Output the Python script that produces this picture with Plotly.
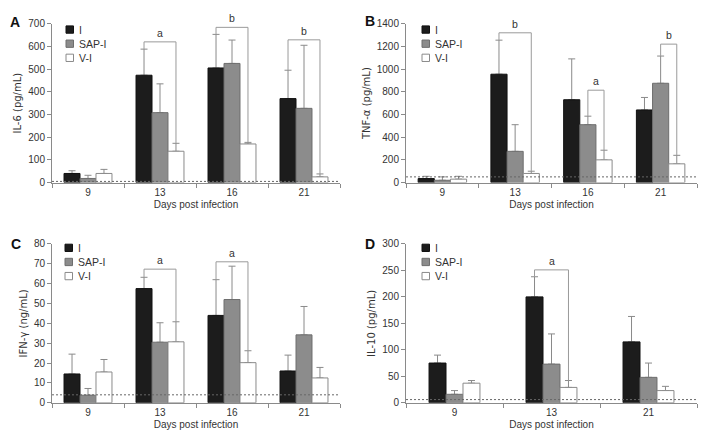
import plotly.graph_objects as go

# ---------------- data ----------------
series_names = ["I", "SAP-I", "V-I"]

days_abc = ["9", "13", "16", "21"]
days_d = ["9", "13", "21"]

# Panel A: IL-6 (pg/mL)
il6_I = [40, 473, 505, 370]
il6_SAP = [18, 308, 525, 327]
il6_V = [40, 138, 170, 25]
il6_I_err = [12, 115, 148, 125]
il6_SAP_err = [14, 127, 103, 278]
il6_V_err = [18, 35, 7, 13]
il6_lod = 5

# Panel B: TNF-alpha (pg/mL)
tnf_I = [35, 955, 730, 640]
tnf_SAP = [20, 275, 510, 875]
tnf_V = [30, 80, 200, 165]
tnf_I_err = [20, 300, 360, 110]
tnf_SAP_err = [30, 235, 75, 240]
tnf_V_err = [25, 20, 85, 75]
tnf_lod = 50

# Panel C: IFN-gamma (ng/mL)
ifn_I = [14.5, 57.5, 44, 16]
ifn_SAP = [3.8, 30.5, 52, 34.2]
ifn_V = [15.5, 30.7, 20.2, 12.5]
ifn_I_err = [10, 5.7, 18, 8]
ifn_SAP_err = [3.4, 9.8, 16.8, 14.3]
ifn_V_err = [6.3, 10.1, 6, 5.3]
ifn_lod = 4

# Panel D: IL-10 (pg/mL)
il10_I = [75, 200, 115]
il10_SAP = [16, 73, 48]
il10_V = [37, 29, 23]
il10_I_err = [15, 38, 48]
il10_SAP_err = [7, 57, 27]
il10_V_err = [5, 13, 8]
il10_lod = 6

# significance brackets: (category index, from series, to series, level, label)
brackets_a = [(1, 0, 2, 620, "a"), (2, 0, 2, 684, "b"), (3, 0, 2, 629, "b")]
brackets_b = [(1, 0, 2, 1320, "b"), (2, 1, 2, 814, "a"), (3, 1, 2, 1220, "b")]
brackets_c = [(1, 0, 2, 67.3, "a"), (2, 0, 2, 71, "a")]
brackets_d = [(1, 0, 2, 251, "a")]

# ---------------- style ----------------
OFF = 8                      # default page margin of the html body
W, H = 708 - 2 * OFF, 446 - 2 * OFF
FONT = "Liberation Sans"
TFONT = "DejaVu Sans"
TXT = "#333333"
AX = "#8a8a8a"
fills = ["#1c1c1c", "#8c8c8c", "#ffffff"]
outlines = ["#111111", "#6e6e6e", "#8a8a8a"]
ERR = "#8a8a8a"

fig = go.Figure()


def px_x(p):
    return (p - OFF) / W


def px_y(p):
    return 1 - (p - OFF) / H


panels = [
    dict(n="", letter="A", cats=days_abc, vals=[il6_I, il6_SAP, il6_V],
         errs=[il6_I_err, il6_SAP_err, il6_V_err], lod=il6_lod, ymax=700, dtick=100,
         ytitle="IL-6 (pg/mL)", br=brackets_a, xd=(52, 340), yd=(19, 182), w=0.222,
         lx=(15, 17), leg=(14, 6)),
    dict(n="2", letter="B", cats=days_abc, vals=[tnf_I, tnf_SAP, tnf_V],
         errs=[tnf_I_err, tnf_SAP_err, tnf_V_err], lod=tnf_lod, ymax=1400, dtick=200,
         ytitle="TNF-α (pg/mL)", br=brackets_b, xd=(406, 697), yd=(19, 182), w=0.222,
         lx=(369.5, 16.5), leg=(16, 6)),
    dict(n="3", letter="C", cats=days_abc, vals=[ifn_I, ifn_SAP, ifn_V],
         errs=[ifn_I_err, ifn_SAP_err, ifn_V_err], lod=ifn_lod, ymax=80, dtick=10,
         ytitle="IFN-γ (ng/mL)", br=brackets_c, xd=(52, 340), yd=(245, 408), w=0.222,
         lx=(15.5, 245.5), leg=(13, 4)),
    dict(n="4", letter="D", cats=days_d, vals=[il10_I, il10_SAP, il10_V],
         errs=[il10_I_err, il10_SAP_err, il10_V_err], lod=il10_lod, ymax=300, dtick=50,
         ytitle="IL-10 (pg/mL)", br=brackets_d, xd=(406, 697), yd=(245, 408), w=0.175,
         lx=(370, 245.5), leg=(16, 4)),
]

for p in panels:
    n = p["n"]
    xa, ya = "x" + n, "y" + n
    w = p["w"]
    # error-bar carriers (drawn underneath the visible bars)
    for k in range(3):
        fig.add_trace(go.Bar(
            x=p["cats"], y=p["vals"][k], xaxis=xa, yaxis=ya,
            width=w, offset=-1.5 * w + k * w,
            marker=dict(color="rgba(0,0,0,0)", line=dict(width=0)),
            error_y=dict(type="data", array=p["errs"][k], symmetric=False,
                         color=ERR, thickness=1, width=3.5),
            showlegend=False, hoverinfo="skip",
        ))
    for k in range(3):
        fig.add_trace(go.Bar(
            x=p["cats"], y=p["vals"][k], xaxis=xa, yaxis=ya, name=series_names[k],
            width=w, offset=-1.5 * w + k * w,
            marker=dict(color=fills[k], line=dict(color=outlines[k], width=1)),
            showlegend=False,
        ))

    x0, x1 = p["xd"]
    y0, y1 = p["yd"]
    fig.update_layout({
        "xaxis" + n: dict(domain=[px_x(x0), px_x(x1)], anchor=ya, type="category",
                          showline=True, linecolor=AX, linewidth=1,
                          ticks="outside", tickson="boundaries", ticklen=4, tickcolor=AX,
                          tickfont=dict(family=FONT, size=10, color=TXT),
                          title=dict(text="Days post infection", standoff=4,
                                     font=dict(family=FONT, size=10, color=TXT)),
                          range=[-0.5, len(p["cats"]) - 0.5], showgrid=False, zeroline=False,
                          fixedrange=True),
        "yaxis" + n: dict(domain=[px_y(y1), px_y(y0)], anchor=xa,
                          range=[0, p["ymax"]], dtick=p["dtick"],
                          showline=True, linecolor=AX, linewidth=1,
                          ticks="outside", ticklen=4, tickcolor=AX,
                          tickfont=dict(family=FONT, size=10, color=TXT),
                          title=dict(text=p["ytitle"], standoff=4,
                                     font=dict(family=TFONT, size=10, color=TXT)),
                          showgrid=False, zeroline=False, fixedrange=True),
    })

    # limit of detection line
    fig.add_shape(type="line", xref=xa + " domain", yref=ya, x0=0, x1=1,
                  y0=p["lod"], y1=p["lod"],
                  line=dict(color="#666666", width=1, dash="2px,2px"))

    # significance brackets
    for (ci, s0, s1, lvl, lab) in p["br"]:
        xa0 = ci + (s0 - 1) * w
        xa1 = ci + (s1 - 1) * w
        t0 = p["vals"][s0][ci] + p["errs"][s0][ci]
        t1 = p["vals"][s1][ci] + p["errs"][s1][ci]
        fig.add_shape(type="path", xref=xa, yref=ya,
                      path=f"M {xa0} {t0} L {xa0} {lvl} L {xa1} {lvl} L {xa1} {t1}",
                      line=dict(color="#9a9a9a", width=1))
        fig.add_annotation(x=(xa0 + xa1) / 2, y=lvl, xref=xa, yref=ya, text=lab,
                           showarrow=False, yanchor="bottom", yshift=1,
                           font=dict(family=FONT, size=10.5, color=TXT))

    # in-plot legend (square swatch + label per series)
    lox, loy = p["leg"]
    for k in range(3):
        cy = y0 + loy + k * 14.5
        sx = x0 + lox
        fig.add_shape(type="rect", xref="paper", yref="paper",
                      x0=px_x(sx), x1=px_x(sx + 7.5), y0=px_y(cy + 3.75), y1=px_y(cy - 3.75),
                      fillcolor=fills[k], line=dict(color=outlines[k], width=1))
        fig.add_annotation(x=px_x(sx + 10.5), y=px_y(cy), xref="paper", yref="paper",
                           text=series_names[k], showarrow=False,
                           xanchor="left", yanchor="middle",
                           font=dict(family=FONT, size=10.5, color=TXT))

    # panel letter
    lx, ly = p["lx"]
    fig.add_annotation(x=px_x(lx), y=px_y(ly), xref="paper", yref="paper",
                       text=f"<b>{p['letter']}</b>", showarrow=False,
                       xanchor="center", yanchor="middle",
                       font=dict(family="Liberation Sans", size=14, color="#111111"))

fig.update_layout(
    width=W, height=H, margin=dict(l=0, r=0, t=0, b=0),
    paper_bgcolor="white", plot_bgcolor="white",
    barmode="overlay", showlegend=False,
    font=dict(family=FONT, size=10, color=TXT),
)

fig.write_html("out.html")
